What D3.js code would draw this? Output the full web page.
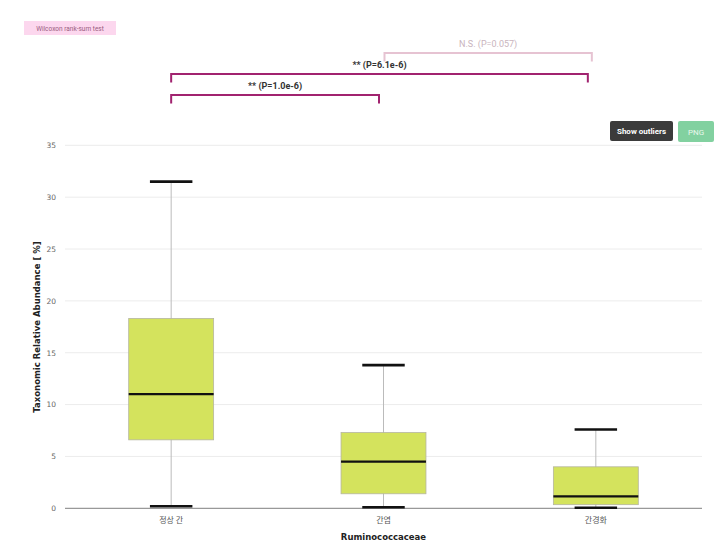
<!DOCTYPE html>
<html>
<head>
<meta charset="utf-8">
<script src="https://cdn.jsdelivr.net/npm/d3@7"></script>
<style>
  html, body { margin: 0; padding: 0; background: #fff; }
  svg { display: block; }
</style>
</head>
<body>
<div id="chart"></div>
<script>
// ---- Data ----
const categories = ["정상 간", "간염", "간경화"];
const whiskerLow  = [0.2, 0.1, 0.05];
const q1          = [6.6, 1.4, 0.35];
const median      = [11.0, 4.5, 1.15];
const q3          = [18.3, 7.3, 4.0];
const whiskerHigh = [31.5, 13.8, 7.6];
const yTicks = [0, 5, 10, 15, 20, 25, 30, 35];

const sigFrom  = ["정상 간", "정상 간", "간염"];
const sigTo    = ["간염", "간경화", "간경화"];
const sigLabel = ["** (P=1.0e-6)", "** (P=6.1e-6)", "N.S. (P=0.057)"];
const sigSignificant = [true, true, false];

const xTitle = "Ruminococcaceae";
const yTitle = "Taxonomic Relative Abundance [ %]";

// ---- Layout ----
const W = 724, H = 546;
const svg = d3.select("#chart").append("svg").attr("width", W).attr("height", H);

const x = d3.scaleBand().domain(categories).range([65, 702]).padding(0);
const y = d3.scaleLinear().domain([0, 35]).range([508.3, 145.3]);

const axisFont = "'DejaVu Sans', Verdana, sans-serif";

// grid lines
svg.append("g").selectAll("line").data(yTicks.filter(t => t > 0)).join("line")
  .attr("x1", 65).attr("x2", 702)
  .attr("y1", d => y(d)).attr("y2", d => y(d))
  .attr("stroke", "#ececec").attr("stroke-width", 1);

// y axis via d3.axisLeft (no domain line)
const yAxis = svg.append("g").attr("transform", "translate(65,0)")
  .call(d3.axisLeft(y).tickValues(yTicks).tickSize(0).tickPadding(9));
yAxis.select(".domain").remove();
yAxis.selectAll("text").attr("font-family", axisFont).attr("font-size", 7.5).attr("fill", "#666");

// baseline
svg.append("line").attr("x1", 65).attr("x2", 702).attr("y1", y(0)).attr("y2", y(0))
  .attr("stroke", "#999").attr("stroke-width", 1.2);

// x axis
const xAxis = svg.append("g").attr("transform", `translate(0,${y(0)})`)
  .call(d3.axisBottom(x).tickSize(0).tickPadding(9));
xAxis.select(".domain").remove();
xAxis.selectAll("text").attr("font-family", "'Noto Sans CJK KR', sans-serif").attr("font-size", 8).attr("fill", "#555");

// boxes
const idx = d3.range(categories.length);
const cx = i => x(categories[i]) + x.bandwidth() / 2;
const boxW = x.bandwidth() * 0.4;
const capW = x.bandwidth() * 0.2;

const g = svg.append("g");
// whisker lines
g.selectAll(".wh").data(idx).join("line")
  .attr("x1", cx).attr("x2", cx)
  .attr("y1", i => y(whiskerHigh[i])).attr("y2", i => y(whiskerLow[i]))
  .attr("stroke", "#bbb").attr("stroke-width", 1);
// boxes
g.selectAll(".box").data(idx).join("rect")
  .attr("x", i => cx(i) - boxW / 2).attr("width", boxW)
  .attr("y", i => y(q3[i])).attr("height", i => y(q1[i]) - y(q3[i]))
  .attr("fill", "#d4e35d").attr("stroke", "#b5b5a0").attr("stroke-width", 0.8);
// medians
g.selectAll(".med").data(idx).join("line")
  .attr("x1", i => cx(i) - boxW / 2).attr("x2", i => cx(i) + boxW / 2)
  .attr("y1", i => y(median[i])).attr("y2", i => y(median[i]))
  .attr("stroke", "#111").attr("stroke-width", 2.2);
// caps
[whiskerHigh, whiskerLow].forEach(arr => {
  g.selectAll(null).data(idx).join("line")
    .attr("x1", i => cx(i) - capW / 2).attr("x2", i => cx(i) + capW / 2)
    .attr("y1", i => y(arr[i])).attr("y2", i => y(arr[i]))
    .attr("stroke", "#111").attr("stroke-width", 2.6);
});

// axis titles
svg.append("text").attr("x", cx(1)).attr("y", 540).attr("text-anchor", "middle")
  .attr("font-family", axisFont).attr("font-weight", "bold").attr("font-size", 8.5)
  .attr("fill", "#222").text(xTitle);
svg.append("text").attr("transform", `translate(40,${327}) rotate(-90)`).attr("text-anchor", "middle")
  .attr("font-family", axisFont).attr("font-weight", "bold").attr("font-size", 8.5)
  .attr("fill", "#222").text(yTitle);

// significance brackets
const bracketY = [95, 74, 53];
const startShift = [0, 0, 1];
const endShift = [-4.5, -8, -4];
const sigX = c => x(c) + x.bandwidth() / 2;
const sigG = svg.append("g");
sigFrom.forEach((f, i) => {
  const col = sigSignificant[i] ? "#a1236f" : "#e6c3d2";
  const x1 = sigX(f) + startShift[i], x2 = sigX(sigTo[i]) + endShift[i];
  const by = bracketY[i];
  sigG.append("path")
    .attr("d", `M${x1},${by + 8.5}V${by}H${x2}V${by + 8.5}`)
    .attr("fill", "none").attr("stroke", col).attr("stroke-width", 2);
  sigG.append("text")
    .attr("x", (x1 + x2) / 2).attr("y", by - 6)
    .attr("text-anchor", "middle")
    .attr("font-family", "Roboto, sans-serif").attr("font-weight", sigSignificant[i] ? "bold" : "normal")
    .attr("font-size", 9)
    .attr("fill", sigSignificant[i] ? "#333" : "#c9b4bd")
    .text(sigLabel[i]);
});

// Wilcoxon label
svg.append("rect").attr("x", 24).attr("y", 21).attr("width", 92).attr("height", 14)
  .attr("fill", "#fcd7ee");
svg.append("text").attr("x", 70).attr("y", 31).attr("text-anchor", "middle")
  .attr("font-family", "Roboto, sans-serif").attr("font-size", 6.5).attr("fill", "#9a5c80")
  .text("Wilcoxon rank-sum test");

// buttons
svg.append("rect").attr("x", 610).attr("y", 121).attr("width", 63).attr("height", 20).attr("rx", 2)
  .attr("fill", "#3b3b3b");
svg.append("text").attr("x", 641.5).attr("y", 134).attr("text-anchor", "middle")
  .attr("font-family", "Roboto, sans-serif").attr("font-weight", "bold").attr("font-size", 8)
  .attr("fill", "#fff").text("Show outliers");
svg.append("rect").attr("x", 678).attr("y", 121).attr("width", 36).attr("height", 21).attr("rx", 2)
  .attr("fill", "#82d1a0");
svg.append("text").attr("x", 696).attr("y", 134.5).attr("text-anchor", "middle")
  .attr("font-family", "Roboto, sans-serif").attr("font-size", 8)
  .attr("fill", "#e8f7ec").text("PNG");
</script>
</body>
</html>
